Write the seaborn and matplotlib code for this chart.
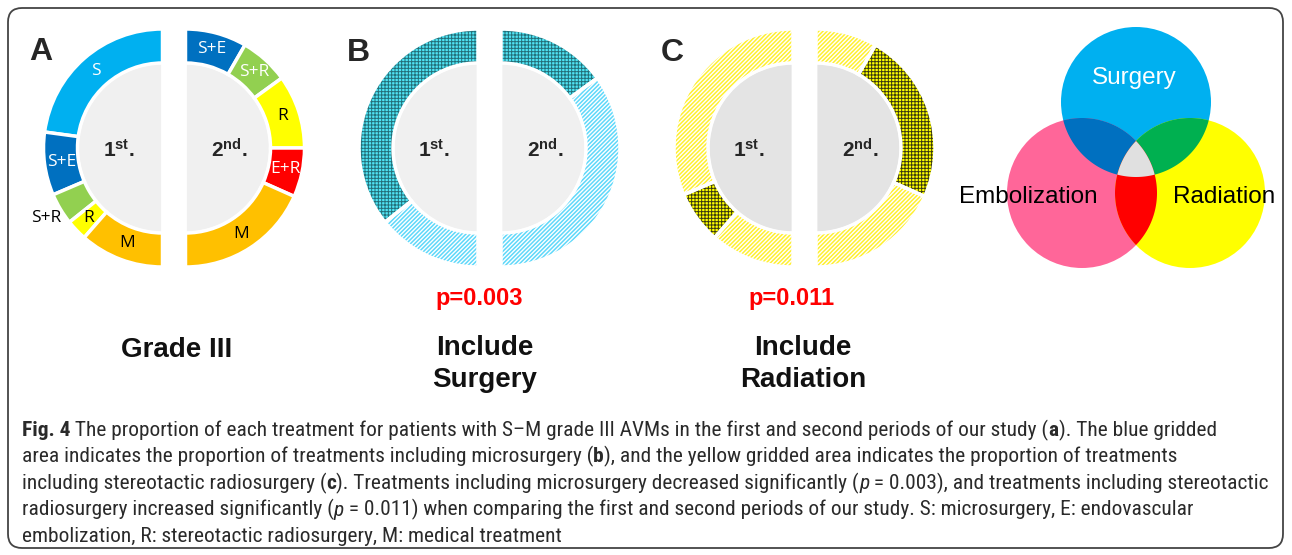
import numpy as np
import matplotlib
matplotlib.use("Agg")
import matplotlib.pyplot as plt
import seaborn as sns
from matplotlib import font_manager
from matplotlib.patches import Circle, Polygon, FancyBboxPatch

# ---- data ----
first_labels = ["S", "S+E", "S+R", "R", "M"]
first_counts = [16, 6, 3, 2, 8]
second_labels = ["S+E", "S+R", "R", "E+R", "M"]
second_counts = [5, 4, 6, 4, 11]
treatment_colors = {"S": "#00b0f0", "S+E": "#0070c0", "S+R": "#92d050",
                    "R": "#ffff00", "E+R": "#ff0000", "M": "#ffc000"}
label_white = {"S", "S+E", "E+R"}
period_marks = [r"$\mathbf{1^{st}.}$", r"$\mathbf{2^{nd}.}$"]
panel_letters = ["A", "B", "C"]
panel_titles = [["Grade III"], ["Include", "Surgery"], ["Include", "Radiation"]]
p_values = ["p=0.003", "p=0.011"]
venn_labels = ["Surgery", "Embolization", "Radiation"]
venn_colors = ["#00b0f0", "#ff6699", "#ffff00"]
venn_overlaps = [((0, 1), "#0070c0"), ((0, 2), "#00b050"),
                 ((1, 2), "#ff0000"), ((0, 1, 2), "#e0e0e0")]
caption_lines = [
    [("Fig. 4", "bold"), (" The proportion of each treatment for patients with S\u2013M grade III AVMs in the first and second periods of our study (", "normal"), ("a", "bold"), ("). The blue gridded", "normal")],
    [("area indicates the proportion of treatments including microsurgery (", "normal"), ("b", "bold"), ("), and the yellow gridded area indicates the proportion of treatments", "normal")],
    [("including stereotactic radiosurgery (", "normal"), ("c", "bold"), ("). Treatments including microsurgery decreased significantly (", "normal"), ("p", "italic"), (" = 0.003), and treatments including stereotactic", "normal")],
    [("radiosurgery increased significantly (", "normal"), ("p", "italic"), (" = 0.011) when comparing the first and second periods of our study. S: microsurgery, E: endovascular", "normal")],
    [("embolization, R: stereotactic radiosurgery, M: medical treatment", "normal")],
]
# right ends of the wrapped caption lines in the reference
caption_ends = [1260, 1223, 1273, 1238, None]

# ---- style ----
sns.set_theme(style="white")
plt.rcParams["font.family"] = ["Liberation Sans", "DejaVu Sans"]
plt.rcParams["mathtext.fontset"] = "custom"
plt.rcParams["mathtext.rm"] = "Liberation Sans"
plt.rcParams["mathtext.bf"] = "Liberation Sans:bold"
plt.rcParams["hatch.linewidth"] = 0.8

names = {f.name for f in font_manager.fontManager.ttflist}
cap_font = next((n for n in ["Liberation Sans Narrow", "Roboto Condensed", "Open Sans Condensed"]
                 if n in names), "Liberation Sans")

W, H = 1292, 555
fig = plt.figure(figsize=(W / 100, H / 100), dpi=100)
ax = fig.add_axes([0, 0, 1, 1])

R_OUT, R_IN = 119, 85
CY = H - 148
panel_mid = [174, 489.5, 804.5]
HALF_GAP = 11.5


def Y(y):
    return H - y


def half_pie(values, colors, cx, left, radius, width=None, lw=2.5, ec="white", hatches=None):
    wp = dict(edgecolor=ec, linewidth=lw)
    if width is not None:
        wp["width"] = width
    wedges, _ = ax.pie(list(values) + [sum(values)], colors=list(colors) + ["none"],
                       startangle=90, counterclock=left, radius=radius,
                       center=(cx, CY), wedgeprops=wp, hatch=hatches, frame=True)
    wedges[-1].set_visible(False)
    return wedges[:-1]


def runs(labels, counts, key):
    out = []
    for lab, c in zip(labels, counts):
        flag = key(lab)
        if out and out[-1][0] == flag:
            out[-1][1] += c
        else:
            out.append([flag, c])
    return out


period_data = [(first_labels, first_counts, True), (second_labels, second_counts, False)]

# ---- panel A ----
for labels, counts, left in period_data:
    cx = panel_mid[0] + (-HALF_GAP if left else HALF_GAP)
    half_pie([1], ["#f0f0f0"], cx, left, R_IN, lw=2)
    wedges = half_pie(counts, [treatment_colors[l] for l in labels], cx, left, R_OUT, width=R_OUT - R_IN)
    for w, lab in zip(wedges, labels):
        mid = np.deg2rad((w.theta1 + w.theta2) / 2)
        outside = left and lab == "S+R"
        r = 136 if outside else 102
        col = "white" if (lab in label_white or (lab == "S+R" and not left)) else "black"
        if outside:
            col = "black"
        ax.text(cx + r * np.cos(mid), CY + r * np.sin(mid), lab, ha="center", va="center",
                fontsize=12.5, color=col, family=["Open Sans", "DejaVu Sans"])

# ---- panels B and C ----
styles = {
    1: dict(key=lambda l: "S" in l, grid=("#50e4f4", "#23707a", 0.7), diag=("white", "#5fd8fa", 1.1),
            inner="#f0f0f0"),
    2: dict(key=lambda l: "R" in l, grid=("#ffff00", "#3a3a10", 0.7), diag=("white", "#fff030", 1.1),
            inner="#e4e4e4"),
}
for pi, st in styles.items():
    for labels, counts, left in period_data:
        cx = panel_mid[pi] + (-HALF_GAP if left else HALF_GAP)
        half_pie([1], [st["inner"]], cx, left, R_IN, lw=2)
        groups = runs(labels, counts, st["key"])
        vals = [g[1] for g in groups]
        faces = [st["grid"][0] if g[0] else st["diag"][0] for g in groups]
        hat = ["+++++" if g[0] else "////////" for g in groups]
        wedges = half_pie(vals, faces, cx, left, R_OUT, width=R_OUT - R_IN, lw=0, hatches=hat + [None])
        for w, g in zip(wedges, groups):
            spec = st["grid"] if g[0] else st["diag"]
            w.set_edgecolor(spec[1])
            w.set_linewidth(0)
            if hasattr(w, "set_hatch_linewidth"):
                w.set_hatch_linewidth(spec[2])
        outline = half_pie(vals, ["none"] * len(vals), cx, left, R_OUT, width=R_OUT - R_IN, lw=2.5)
        for w in outline:
            w.set_facecolor("none")

# ---- period labels, letters, titles ----
for pi in range(3):
    ax.text(panel_mid[pi] - HALF_GAP - 44, Y(150), period_marks[0], ha="center", va="center", fontsize=15)
    ax.text(panel_mid[pi] + HALF_GAP + 44, Y(150), period_marks[1], ha="center", va="center", fontsize=15)
letter_pos = [(41, 52), (358, 53), (672, 53)]
for (lx, ly), letter in zip(letter_pos, panel_letters):
    ax.text(lx, Y(ly), letter, ha="center", va="center", fontsize=23, fontweight="bold")

title_x = [177, 485, 803]
for tx, lines in zip(title_x, panel_titles):
    ys = [350] if len(lines) == 1 else [348, 380]
    for ty, line in zip(ys, lines):
        ax.text(tx, Y(ty), line, ha="center", va="center", fontsize=20, fontweight="bold", color="#111111")
for px, p in zip([479, 792], p_values):
    ax.text(px, Y(299), p, ha="center", va="center", fontsize=17, fontweight="bold", color="#ff0000")

# ---- venn diagram ----
centers = np.array([[1136, Y(102)], [1082, Y(193)], [1190, Y(193)]], dtype=float)
VR = 75
for c, col in zip(centers, venn_colors):
    ax.add_patch(Circle(c, VR, facecolor=col, edgecolor="none"))


def overlap(idx):
    pts = []
    t = np.linspace(0, 2 * np.pi, 1440)
    for i in idx:
        p = centers[i] + VR * np.c_[np.cos(t), np.sin(t)]
        mask = np.all([np.hypot(*(p - centers[j]).T) <= VR + 1e-6 for j in idx if j != i], axis=0)
        pts.append(p[mask])
    pts = np.vstack(pts)
    c = pts.mean(0)
    return pts[np.argsort(np.arctan2(pts[:, 1] - c[1], pts[:, 0] - c[0]))]


for idx, col in venn_overlaps:
    ax.add_patch(Polygon(overlap(idx), closed=True, facecolor=col, edgecolor="none"))

venn_text_pos = [(1134, 78, "white"), (1028, 197, "black"), (1224, 197, "black")]
for (vx, vy, vc), lab in zip(venn_text_pos, venn_labels):
    ax.text(vx, Y(vy), lab, ha="center", va="center", fontsize=17.5, color=vc)

# ---- frame ----
ax.add_patch(FancyBboxPatch((8, Y(548)), 1275, 540, boxstyle="round,pad=0,rounding_size=14",
                            facecolor="none", edgecolor="#444444", linewidth=1.3, clip_on=False))

ax.set_xlim(0, W)
ax.set_ylim(0, H)
ax.set_aspect("equal")
ax.axis("off")

# ---- caption ----
renderer = fig.canvas.get_renderer()
CAP_X = 22


def draw_line(segments, x0, y, size):
    x = x0
    made = []
    for txt, kind in segments:
        t = ax.text(x, y, txt, ha="left", va="baseline", fontsize=size, family=cap_font,
                    fontweight="bold" if kind == "bold" else "normal",
                    fontstyle="italic" if kind == "italic" else "normal", color="#2a2a2a")
        bb = t.get_window_extent(renderer)
        x = ax.transData.inverted().transform((bb.x1, 0))[0]
        made.append(t)
    return x, made


# fit one font size so that no caption line runs past its reference end
cap_size = 10.0
for _ in range(3):
    scales = []
    for segs, target in zip(caption_lines, caption_ends):
        end, tmp = draw_line(segs, CAP_X, Y(436), cap_size)
        for t in tmp:
            t.remove()
        if target is not None:
            scales.append((target - CAP_X) / (end - CAP_X))
    cap_size *= min(scales)
for i, segs in enumerate(caption_lines):
    draw_line(segs, CAP_X, Y(436 + 26.5 * i), cap_size)

fig.savefig("out.png", dpi=100)
